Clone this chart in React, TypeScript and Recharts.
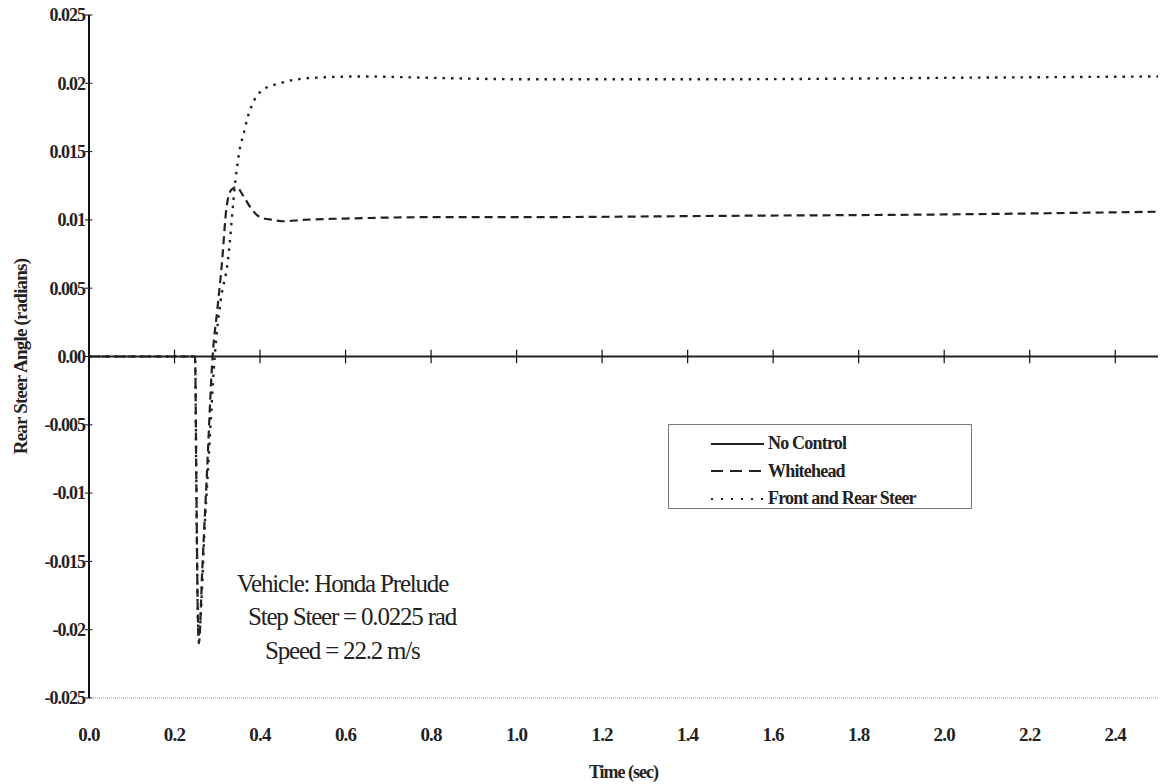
import React from "react";
import {
  LineChart,
  Line,
  XAxis,
  YAxis,
  ReferenceLine,
  Legend,
  Label,
} from "recharts";

const xTicks = [0, 0.2, 0.4, 0.6, 0.8, 1.0, 1.2, 1.4, 1.6, 1.8, 2.0, 2.2, 2.4];
const xTickLabels = ["0.0", "0.2", "0.4", "0.6", "0.8", "1.0", "1.2", "1.4", "1.6", "1.8", "2.0", "2.2", "2.4"];
const yTicks = [0.025, 0.02, 0.015, 0.01, 0.005, 0, -0.005, -0.01, -0.015, -0.02, -0.025];
const yTickLabels = ["0.025", "0.02", "0.015", "0.01", "0.005", "0.00", "-0.005", "-0.01", "-0.015", "-0.02", "-0.025"];

const noControlTime = [0, 0.5, 1.0, 1.5, 2.0, 2.5];
const noControlValue = [0, 0, 0, 0, 0, 0];

const whiteheadTime = [0, 0.248, 0.251, 0.254, 0.257, 0.265, 0.275, 0.289, 0.3, 0.31, 0.322, 0.333, 0.345, 0.36, 0.38, 0.4, 0.43, 0.455, 0.5, 0.6, 0.8, 1.0, 1.5, 2.0, 2.5];
const whiteheadValue = [0, 0, -0.009, -0.018, -0.021, -0.0155, -0.0091, 0, 0.0034, 0.0065, 0.011, 0.0122, 0.0124, 0.0118, 0.0108, 0.0102, 0.01, 0.0099, 0.01, 0.0101, 0.0102, 0.0102, 0.0103, 0.0104, 0.0106];

const frontRearTime = [0, 0.248, 0.251, 0.254, 0.257, 0.263, 0.27, 0.278, 0.294, 0.308, 0.324, 0.343, 0.352, 0.362, 0.371, 0.387, 0.406, 0.446, 0.523, 0.64, 0.8, 1.0, 1.5, 2.0, 2.5];
const frontRearValue = [0, 0, -0.009, -0.018, -0.0205, -0.0179, -0.0128, -0.0085, 0, 0.0041, 0.0068, 0.01305, 0.0151, 0.01635, 0.0175, 0.0188, 0.0195, 0.02, 0.0204, 0.0205, 0.0204, 0.0203, 0.0203, 0.0204, 0.0205];

const zip = (ts: number[], vs: number[]) => ts.map((t, i) => ({ t, v: vs[i] }));

const SERIF = "'Liberation Serif', 'Times New Roman', serif";
const INK = "#222";

const series = [
  { name: "No Control", data: zip(noControlTime, noControlValue), dash: undefined as string | undefined, width: 2, type: "linear" as const },
  { name: "Whitehead", data: zip(whiteheadTime, whiteheadValue), dash: "8 5", width: 2.2, type: "monotone" as const },
  { name: "Front and Rear Steer", data: zip(frontRearTime, frontRearValue), dash: "2.5 6", width: 2.4, type: "monotone" as const },
];

const legendDash = ["", "12 7", "2 8"];

const LegendBox = () => (
  <div
    style={{
      width: 304,
      height: 85,
      boxSizing: "border-box",
      border: "1px solid #777",
      paddingTop: 5,
      fontFamily: SERIF,
    }}
  >
    {series.map((s, i) => (
      <div key={s.name} style={{ display: "flex", alignItems: "center", height: 27.5 }}>
        <svg width={95} height={10} style={{ display: "block" }}>
          <line
            x1={42}
            x2={95}
            y1={5}
            y2={5}
            stroke={INK}
            strokeWidth={2}
            strokeDasharray={legendDash[i] || undefined}
          />
        </svg>
        <span
          style={{
            marginLeft: 4,
            fontSize: 18,
            fontWeight: 700,
            letterSpacing: -0.8,
            color: INK,
          }}
        >
          {s.name}
        </span>
      </div>
    ))}
  </div>
);

const notes = [
  { text: "Vehicle: Honda Prelude", left: 237, top: 569 },
  { text: "Step Steer = 0.0225 rad", left: 248, top: 602 },
  { text: "Speed = 22.2 m/s", left: 265, top: 636 },
];

export default function App() {
  return (
    <div style={{ position: "absolute", left: 0, top: 0, width: 1160, height: 784, background: "#fff" }}>
      <LineChart width={1160} height={784} margin={{ top: 15, right: 2, bottom: 0, left: 0 }}>
        <XAxis
          xAxisId="b"
          type="number"
          dataKey="t"
          domain={[0, 2.5]}
          ticks={xTicks}
          tickFormatter={(v: number) => xTickLabels[xTicks.indexOf(v)] ?? String(v)}
          axisLine={{ stroke: "#999", strokeDasharray: "1 1" }}
          tickLine={false}
          tickMargin={24}
          height={86}
          tick={{ fill: INK, fontFamily: SERIF, fontSize: 19, fontWeight: 700, letterSpacing: -0.8 }}
          allowDataOverflow
        >
          <Label
            value="Time (sec)"
            position="insideBottom"
            offset={6}
            style={{ fill: INK, fontFamily: SERIF, fontSize: 18, fontWeight: 700, letterSpacing: -1 }}
          />
        </XAxis>
        <XAxis
          xAxisId="t"
          orientation="top"
          type="number"
          domain={[0, 2.5]}
          height={0}
          tick={false}
          tickLine={false}
          axisLine={{ stroke: "#999", strokeDasharray: "1 1" }}
        />
        <YAxis
          yAxisId="l"
          type="number"
          domain={[-0.025, 0.025]}
          ticks={yTicks}
          tickFormatter={(v: number) => yTickLabels[yTicks.indexOf(v)] ?? String(v)}
          width={89}
          axisLine={{ stroke: "#111", strokeWidth: 2 }}
          tickLine={{ stroke: "#111" }}
          tickSize={4}
          tickMargin={0}
          tick={{ fill: INK, fontFamily: SERIF, fontSize: 18, fontWeight: 700, letterSpacing: -1 }}
        >
          <Label
            value="Rear Steer Angle (radians)"
            angle={-90}
            position="insideLeft"
            offset={20}
            style={{ textAnchor: "middle", fill: INK, fontFamily: SERIF, fontSize: 19, fontWeight: 700, letterSpacing: -0.8 }}
          />
        </YAxis>
        <YAxis
          yAxisId="r"
          orientation="right"
          type="number"
          domain={[-0.025, 0.025]}
          width={0}
          tick={false}
          tickLine={false}
          axisLine={{ stroke: "#999", strokeDasharray: "1 1" }}
        />

        {yTicks.map((y) => (
          <ReferenceLine
            key={"yt" + y}
            xAxisId="b"
            yAxisId="l"
            segment={[{ x: 0, y }, { x: 0.008, y }]}
            stroke="#111"
            strokeWidth={1}
          />
        ))}

        {series.map((s) => (
          <Line
            key={s.name}
            xAxisId="b"
            yAxisId="l"
            data={s.data}
            dataKey="v"
            name={s.name}
            type={s.type}
            stroke={INK}
            strokeWidth={s.width}
            strokeDasharray={s.dash}
            dot={false}
            activeDot={false}
            isAnimationActive={false}
          />
        ))}

        {xTicks.slice(1).map((x) => (
          <ReferenceLine
            key={"xt" + x}
            xAxisId="b"
            yAxisId="l"
            segment={[{ x, y: -0.0005 }, { x, y: 0.0005 }]}
            stroke="#111"
            strokeWidth={1.2}
          />
        ))}

        <Legend
          layout="vertical"
          align="center"
          verticalAlign="middle"
          content={() => <LegendBox />}
          wrapperStyle={{ left: 668, top: 424, width: 304, height: 85 }}
        />
      </LineChart>

      {notes.map((n) => (
        <div
          key={n.text}
          style={{
            position: "absolute",
            left: n.left,
            top: n.top,
            fontFamily: SERIF,
            fontSize: 25,
            letterSpacing: -1.2,
            color: INK,
            whiteSpace: "nowrap",
            lineHeight: "30px",
          }}
        >
          {n.text}
        </div>
      ))}
    </div>
  );
}
